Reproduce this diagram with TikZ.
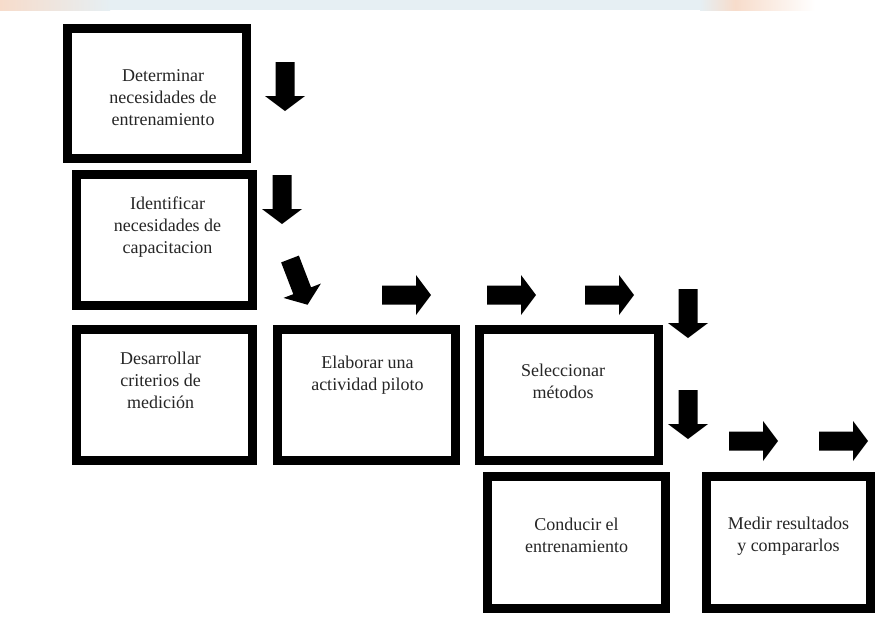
\documentclass[tikz,border=0pt]{standalone}
\usepackage{fontspec}
\setmainfont{Liberation Serif}
\begin{document}
\begin{tikzpicture}[x=1pt,y=-1pt,
  box/.style={draw=black, line width=9.5pt, fill=white, inner sep=0pt},
  lbl/.style={align=center, font=\fontsize{18}{22}\selectfont, text=black!85},
  blockarrow/.pic={\fill[black] (0,-9.5) -- (34,-9.5) -- (34,-20) -- (49,0)
                   -- (34,20) -- (34,9.5) -- (0,9.5) -- cycle;}
]
% page area
\useasboundingbox (0,0) rectangle (879,622);
\fill[white] (0,0) rectangle (879,622);

% faint coloured strip along the top edge
\definecolor{stripo}{HTML}{F7DCCB}
\definecolor{stripb}{HTML}{E6EFF3}
\shade[left color=stripo, right color=stripb] (0,0) rectangle (110,10);
\fill[stripb] (110,0) rectangle (700,10);
\shade[left color=stripb, right color=stripo] (700,0) rectangle (735,10);
\shade[left color=stripo, right color=white] (735,0) rectangle (815,10);

% process boxes
\node[box, minimum width=179, minimum height=130] (b1) at (157,93.5) {};
\node[box, minimum width=176, minimum height=131] (b2) at (164.5,240) {};
\node[box, minimum width=176, minimum height=131] (b3) at (164.5,395) {};
\node[box, minimum width=178, minimum height=131] (b4) at (366.5,395) {};
\node[box, minimum width=179, minimum height=131] (b5) at (569,395) {};
\node[box, minimum width=178, minimum height=132] (b6) at (576.5,542.5) {};
\node[box, minimum width=164, minimum height=132] (b7) at (788.5,542.5) {};

% box texts
\node[lbl] (t1) at ([shift={(6,4)}]b1.center) {Determinar\\necesidades de\\entrenamiento};
\node[lbl] (t2) at ([shift={(3,-13)}]b2.center) {Identificar\\necesidades de\\capacitacion};
\node[lbl] (t3) at ([shift={(-4,-15)}]b3.center) {Desarrollar\\criterios de\\medición};
\node[lbl] (t4) at ([shift={(1,-20)}]b4.center) {Elaborar una\\actividad piloto};
\node[lbl] (t5) at ([shift={(-6,-14)}]b5.center) {Seleccionar\\métodos};
\node[lbl] (t6) at ([shift={(0,-7)}]b6.center) {Conducir el\\entrenamiento};
\node[lbl] (t7) at ([shift={(0,-6)}]b7.center) {Medir resultados\\y compararlos};

% block arrows
\pic[rotate=-90] at (285,62) {blockarrow};
\pic[rotate=-90] at (282,175) {blockarrow};
\pic[rotate=-69] at (290,259) {blockarrow};
\pic at (382,295) {blockarrow};
\pic at (487,295) {blockarrow};
\pic at (585,295) {blockarrow};
\pic[rotate=-90] at (688,289) {blockarrow};
\pic[rotate=-90] at (688,390) {blockarrow};
\pic at (729,441) {blockarrow};
\pic at (819,441) {blockarrow};
\end{tikzpicture}
\end{document}
